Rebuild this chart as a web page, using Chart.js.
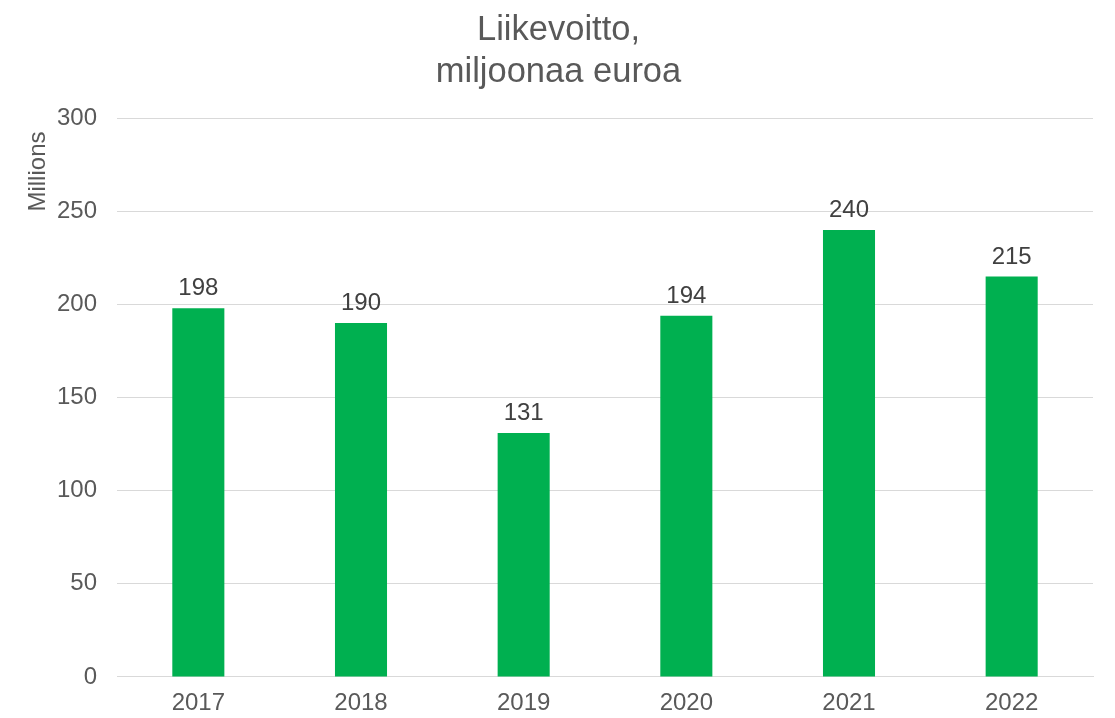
<!DOCTYPE html>
<html>
<head>
<meta charset="utf-8">
<script src="https://cdn.jsdelivr.net/npm/chart.js@4"></script>
<style>
  html, body { margin: 0; padding: 0; background: #fff; }
  #wrap { width: 1115px; height: 718px; }
</style>
</head>
<body>
<div id="wrap"><canvas id="grafica"></canvas></div>
<script>
// Vuodet ja liikevoitto (milj. euroa)
const labels = ['2017', '2018', '2019', '2020', '2021', '2022'];
const values = [198, 190, 131, 194, 240, 215];
const yTicks = [0, 50, 100, 150, 200, 250, 300];

const green = 'rgb(0,176,80)';
const grey = '#595959';
const fam = 'Arial, "Liberation Sans", sans-serif';

// arvot pylväiden päälle
const valueLabels = {
    id: 'valueLabels',
    afterDatasetsDraw(chart) {
        const ctx = chart.ctx;
        const meta = chart.getDatasetMeta(0);
        ctx.save();
        ctx.font = '24px ' + fam;
        ctx.fillStyle = '#404040';
        ctx.textAlign = 'center';
        ctx.textBaseline = 'alphabetic';
        meta.data.forEach(function (bar, i) {
            ctx.fillText(values[i], bar.x, bar.y - 13);
        });
        ctx.restore();
    }
};

const graph = document.querySelector('#grafica');

const data = {
    labels: labels,
    datasets: [{
        data: values,
        backgroundColor: green,
        barPercentage: 0.32,
        categoryPercentage: 1
    }]
};

const config = {
    type: 'bar',
    data: data,
    options: {
        responsive: true,
        maintainAspectRatio: false,
        animation: false,
        layout: { padding: { left: 24, right: 22, top: 9, bottom: 0 } },
        plugins: {
            legend: { display: false },
            tooltip: { enabled: false },
            title: {
                display: true,
                text: ['Liikevoitto,', 'miljoonaa euroa'],
                color: grey,
                font: { family: fam, size: 34.5, weight: 'normal', lineHeight: 1.22 },
                padding: { top: 0, bottom: 25 }
            }
        },
        scales: {
            x: {
                grid: { display: false, drawTicks: false },
                border: { color: '#d9d9d9', width: 1 },
                ticks: {
                    color: grey,
                    font: { family: fam, size: 24 },
                    padding: 12
                },
                afterFit: function (axis) { axis.height = 41; }
            },
            y: {
                min: 0,
                max: 300,
                afterBuildTicks: function (axis) {
                    axis.ticks = yTicks.map(function (v) { return { value: v }; });
                },
                grid: { color: '#d9d9d9', drawTicks: false },
                border: { display: false },
                ticks: {
                    color: grey,
                    font: { family: fam, size: 24 },
                    padding: 20
                },
                title: {
                    display: true,
                    text: 'Millions  ',
                    align: 'end',
                    color: grey,
                    font: { family: fam, size: 24 },
                    padding: { top: 0, bottom: 0 }
                },
                afterFit: function (axis) { axis.width = 93; }
            }
        }
    },
    plugins: [valueLabels]
};

new Chart(graph, config);
</script>
</body>
</html>
